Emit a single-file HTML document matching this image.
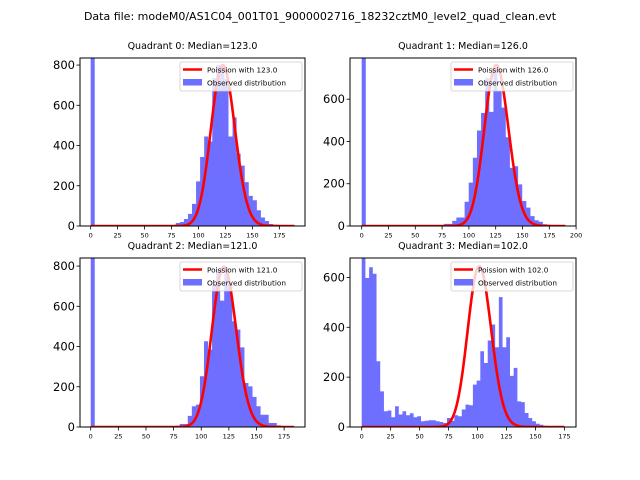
<!DOCTYPE html>
<html><head><meta charset="utf-8"><style>
html,body{margin:0;padding:0;background:#fff;}
svg{display:block;font-family:"DejaVu Sans","Liberation Sans",sans-serif;}
</style></head><body>
<svg id="fig" width="640" height="480" viewBox="0 0 640 480">
<text x="320" y="20" text-anchor="middle" font-size="11">Data file: modeM0/AS1C04_001T01_9000002716_18232cztM0_level2_quad_clean.evt</text>
</svg>
<script>
// ---- data ----
const quadNames = ["Quadrant 0","Quadrant 1","Quadrant 2","Quadrant 3"];
const medians = [123.0, 126.0, 121.0, 102.0];
const binWidths = [3.76, 3.84, 3.66, 3.2];
const curvePeaks = [800, 762, 796, 645];
const curveMax = [189, 190, 184, 175];
const yTicks0 = [0,200,400,600,800];
const yTicks1 = [0,200,400,600];
const yTicks2 = [0,200,400,600,800];
const yTicks3 = [0,200,400,600];
const xTicks0 = [0,25,50,75,100,125,150,175];
const xTicks1 = [0,25,50,75,100,125,150,175,200];
const xTicks2 = [0,25,50,75,100,125,150,175];
const xTicks3 = [0,25,50,75,100,125,150,175];
// counts per bin (bin k starts at k*binWidth)
const counts0 = [2000,0,0,0,0,0,0,0,0,0,0,0,0,0,0,0,0,0,0,0,
  5,15,20,35,60,110,222,343,445,420,735,800,800,730,445,540,360,300,218,150,128,78,42,25,10,5,0,0,0,0];
const counts1 = [2000,0,0,0,0,0,0,0,0,0,0,0,0,0,0,0,0,0,0,5,
  10,10,24,40,40,115,205,323,452,535,700,540,750,640,560,420,275,283,197,118,87,47,27,20,8,5,3,0,0,0];
const counts2 = [2000,0,0,0,0,0,0,0,0,0,0,0,0,0,0,0,0,0,0,0,
  0,5,15,15,55,103,111,252,426,385,708,783,628,794,708,525,484,396,219,202,150,103,61,61,20,20,8,3,0,0];
const counts3 = [700,598,641,615,264,143,63,66,39,83,50,63,47,55,39,43,23,25,27,27,
  23,20,16,36,25,47,43,70,90,87,170,186,304,257,347,411,320,521,320,360,205,237,103,100,56,36,23,13,9,5];
// ---- layout ----
const panels = [
  {x:80,y:58,w:225,h:168,xmin:-9.9,xmax:198.8,ymax:835,counts:counts0,xt:xTicks0,yt:yTicks0},
  {x:350,y:58,w:226,h:168,xmin:-10.9,xmax:199.9,ymax:795,counts:counts1,xt:xTicks1,yt:yTicks1},
  {x:80,y:258,w:225,h:169,xmin:-9.7,xmax:193.9,ymax:840,counts:counts2,xt:xTicks2,yt:yTicks2},
  {x:350,y:258,w:226,h:169,xmin:-10.1,xmax:185,ymax:678,counts:counts3,xt:xTicks3,yt:yTicks3}
];
const NS="http://www.w3.org/2000/svg";
const svg=document.getElementById('fig');
function mk(tag,attrs,parent){const e=document.createElementNS(NS,tag);for(const k in attrs)e.setAttribute(k,attrs[k]);(parent||svg).appendChild(e);return e;}
function lgamma(z){let s=0;while(z<7){s-=Math.log(z);z+=1;}const zz=1/(z*z);return s+(z-0.5)*Math.log(z)-z+0.9189385332+(1/12-zz*(1/360-zz/1260))/z;}
function logpmf(k,l){return k*Math.log(l)-l-lgamma(k+1);}
panels.forEach((p,i)=>{
  const g=mk('g',{});
  
  
  const clipId='clip'+i;
  const cp=mk('clipPath',{id:clipId},g);
  mk('rect',{x:p.x,y:p.y,width:p.w,height:p.h},cp);
  const sx=v=>p.x+(v-p.xmin)/(p.xmax-p.xmin)*p.w;
  const sy=v=>p.y+p.h-v/p.ymax*p.h;
  // bars drawn as one outline path to avoid seams
  const bw=binWidths[i];
  let bd='M'+sx(0).toFixed(2)+','+sy(0).toFixed(2);
  p.counts.forEach((c,k)=>{
    const x0=sx(k*bw),x1=sx((k+1)*bw),y0=sy(Math.max(c,0));
    bd+='L'+x0.toFixed(2)+','+y0.toFixed(2)+'L'+x1.toFixed(2)+','+y0.toFixed(2);
  });
  bd+='L'+sx(p.counts.length*bw).toFixed(2)+','+sy(0).toFixed(2)+'Z';
  const bars=mk('path',{d:bd,fill:'#0000ff','fill-opacity':0.57,'clip-path':'url(#'+clipId+')'},g);
  
  
  // poisson curve
  const lam=medians[i];const lp=logpmf(Math.floor(lam),lam);
  let d='';
  for(let k=0;k<=curveMax[i];k++){
    const v=curvePeaks[i]*Math.exp(logpmf(k,lam)-lp);
    d+=(k?'L':'M')+sx(k).toFixed(2)+','+sy(v).toFixed(2);
  }
  const cur=mk('path',{d:d,fill:'none',stroke:'#ff0000','stroke-width':2.6,'stroke-linejoin':'round','clip-path':'url(#'+clipId+')'},g);
  
  
  // frame
  const fr=mk('rect',{x:p.x,y:p.y,width:p.w,height:p.h,fill:'none',stroke:'#000','stroke-width':1},g);
  
  
  // ticks
  p.yt.forEach(t=>{
    const y=sy(t);
    mk('line',{x1:p.x-3.5,x2:p.x,y1:y,y2:y,stroke:'#000','stroke-width':0.8},g);
    const tx=mk('text',{x:p.x-5,y:y+4,'text-anchor':'end','font-size':11.5},g);
    tx.textContent=t;
    
    
  });
  p.xt.forEach(t=>{
    const x=sx(t);
    mk('line',{x1:x,x2:x,y1:p.y+p.h,y2:p.y+p.h+3.5,stroke:'#000','stroke-width':0.8},g);
    const tx=mk('text',{x:x,y:p.y+p.h+11.5,'text-anchor':'middle','font-size':6.5},g);
    tx.textContent=t;
    
    
  });
  // title
  const ti=mk('text',{x:p.x+p.w/2,y:p.y-9,'text-anchor':'middle','font-size':9.5},g);
  ti.textContent=quadNames[i]+': Median='+medians[i].toFixed(1);
  
  
  // legend
  const lg=mk('g',{},g);
  
  
  const lx=p.x+p.w-125,ly=p.y+4;
  mk('rect',{x:lx,y:ly,width:122,height:29,fill:'#fff','fill-opacity':0.8,stroke:'#ccc','stroke-width':0.8,rx:2},lg);
  mk('line',{x1:lx+3,x2:lx+22,y1:ly+7.5,y2:ly+7.5,stroke:'#ff0000','stroke-width':2.6},lg);
  const t1=mk('text',{x:lx+27,y:ly+10.5,'font-size':7.3},lg);
  t1.textContent='Poission with '+medians[i].toFixed(1);
  
  
  mk('rect',{x:lx+3,y:ly+17,width:19,height:6.5,fill:'#0000ff','fill-opacity':0.57},lg);
  const t2=mk('text',{x:lx+27,y:ly+23.5,'font-size':7.3},lg);
  t2.textContent='Observed distribution';
  
  
});
</script>
</body></html>
